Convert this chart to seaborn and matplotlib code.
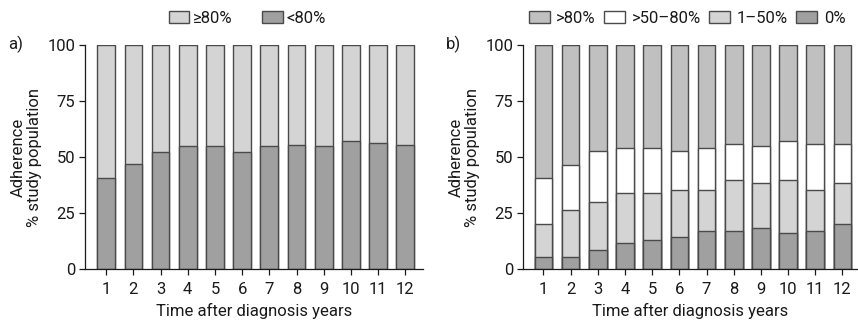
import numpy as np
import pandas as pd
import matplotlib
matplotlib.use('Agg')
import matplotlib.pyplot as plt
import seaborn as sns
from matplotlib.patches import Patch

# --- DADOS ---
anos = [1, 2, 3, 4, 5, 6, 7, 8, 9, 10, 11, 12]

# painel a) aderência < 80% (o resto é >= 80%)
menor80 = [41, 47, 52.5, 55, 55, 52.5, 55, 55.5, 55, 57.5, 56.5, 55.5]

# painel b) percentuais por faixa
zero = [5.6, 5.6, 8.9, 12.0, 13.1, 14.7, 17.1, 17.1, 18.3, 16.2, 17.1, 20.2]
um_50 = [14.8, 21.0, 21.1, 22.1, 21.0, 20.7, 18.5, 22.9, 20.1, 23.8, 18.5, 18.3]
cinq_80 = [20.4, 20.1, 22.8, 19.9, 19.9, 17.5, 18.4, 15.9, 16.6, 17.4, 20.3, 17.4]

rotulos_a = ['≥80%', '<80%']
rotulos_b = ['>80%', '>50–80%', '1–50%', '0%']

# --- ESTILO ---
sns.set_theme(style='white')
plt.rcParams['font.family'] = ['Roboto', 'DejaVu Sans']
plt.rcParams['font.size'] = 12
plt.rcParams['text.color'] = '#1a1a1a'

fs = 12
cor_escuro = '#a0a0a0'
cor_claro = '#d4d4d4'
cor_medio = '#c0c0c0'
cor_borda = '#4a4a4a'
cor_eixo = '#1a1a1a'

df_a = pd.DataFrame({'ano': anos, 'menor80': menor80})
df_a['total'] = 100.0

df_b = pd.DataFrame({'ano': anos, 'zero': zero, 'um_50': um_50, 'cinq_80': cinq_80})
df_b['c1'] = df_b['zero']
df_b['c2'] = df_b['c1'] + df_b['um_50']
df_b['c3'] = df_b['c2'] + df_b['cinq_80']
df_b['total'] = 100.0

fig = plt.figure(figsize=(8.58, 3.2), dpi=100)
ax1 = fig.add_axes([0.099, 0.158, 0.394, 0.70])
ax2 = fig.add_axes([0.6096, 0.158, 0.390, 0.70])

kw = dict(width=0.65, edgecolor=cor_borda, linewidth=1.0, saturation=1)

# painel a
sns.barplot(data=df_a, x='ano', y='total', color=cor_claro, ax=ax1, **kw)
sns.barplot(data=df_a, x='ano', y='menor80', color=cor_escuro, ax=ax1, **kw)

# painel b
sns.barplot(data=df_b, x='ano', y='total', color=cor_medio, ax=ax2, **kw)
sns.barplot(data=df_b, x='ano', y='c3', color='white', ax=ax2, **kw)
sns.barplot(data=df_b, x='ano', y='c2', color=cor_claro, ax=ax2, **kw)
sns.barplot(data=df_b, x='ano', y='c1', color=cor_escuro, ax=ax2, **kw)

for ax, xl in [(ax1, (-0.78, 11.65)), (ax2, (-0.75, 11.56))]:
    ax.set_xlim(*xl)
    ax.set_ylim(0, 100)
    ax.set_yticks([0, 25, 50, 75, 100])
    ax.spines['top'].set_visible(False)
    ax.spines['right'].set_visible(False)
    for s in ['left', 'bottom']:
        ax.spines[s].set_color(cor_eixo)
        ax.spines[s].set_linewidth(0.9)
    ax.tick_params(axis='both', direction='out', length=4, width=0.9,
                   color=cor_eixo, labelcolor=cor_eixo, labelsize=fs, pad=3,
                   bottom=True, left=True)
    ax.tick_params(axis='x', pad=5)
    ax.set_xlabel('Time after diagnosis years', fontsize=fs, labelpad=4,
                  color=cor_eixo)
    ax.set_ylabel('Adherence\n% study population', fontsize=fs, labelpad=4,
                  linespacing=1.05, color=cor_eixo)

fig.text(0.010, 0.862, 'a)', fontsize=fs, va='center')
fig.text(0.520, 0.862, 'b)', fontsize=fs, va='center')

h_a = [Patch(facecolor=cor_claro, edgecolor=cor_borda, linewidth=1.0),
       Patch(facecolor=cor_escuro, edgecolor=cor_borda, linewidth=1.0)]
ax1.legend(h_a, rotulos_a, loc='center', bbox_to_anchor=(0.48, 1.122),
           ncol=2, frameon=False, fontsize=fs, handlelength=1.25,
           handleheight=0.75, handletextpad=0.2, columnspacing=1.8)

h_b = [Patch(facecolor=cor_medio, edgecolor=cor_borda, linewidth=1.0),
       Patch(facecolor='white', edgecolor=cor_borda, linewidth=1.0),
       Patch(facecolor=cor_claro, edgecolor=cor_borda, linewidth=1.0),
       Patch(facecolor=cor_escuro, edgecolor=cor_borda, linewidth=1.0)]
ax2.legend(h_b, rotulos_b, loc='center', bbox_to_anchor=(0.49, 1.122),
           ncol=4, frameon=False, fontsize=fs, handlelength=1.25,
           handleheight=0.75, handletextpad=0.4, columnspacing=0.5)

fig.savefig('out.png', dpi=100)
plt.close(fig)
